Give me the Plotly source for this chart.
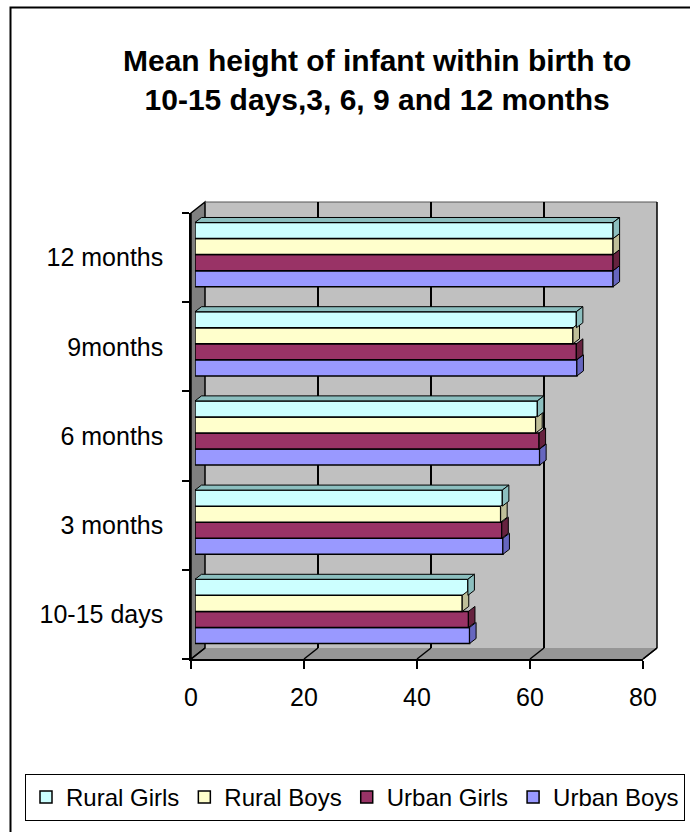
import plotly.graph_objects as go

# ---- data -------------------------------------------------------------
categories = ["10-15 days", "3 months", "6 months", "9months", "12 months"]
rural_girls = [48.3, 54.4, 60.6, 67.5, 74.0]
rural_boys = [47.3, 54.1, 60.3, 66.9, 74.0]
urban_girls = [48.4, 54.3, 60.9, 67.5, 74.0]
urban_boys = [48.6, 54.5, 61.0, 67.6, 74.0]
x_ticks = [0, 20, 40, 60, 80]

# drawn bottom-to-top inside each group
series = [
    ("Urban Boys", urban_boys, "#9999FF", "#6666BF"),
    ("Urban Girls", urban_girls, "#993366", "#66223F"),
    ("Rural Boys", rural_boys, "#FFFFCC", "#BFBF99"),
    ("Rural Girls", rural_girls, "#CCFFFF", "#8CBFBF"),
]

# ---- page geometry (pixels) ------------------------------------------
W, H = 690, 832
FX0, FY0, FW, FH = 191, 213, 452, 446      # front plane of the 3-D box
DX, DY = 14, 11                            # depth of the box (right / up)
BX, BY = 4, 3                              # depth at which the bars sit
X_MAX = 80
BARGAP = 0.28
CAP_DX, CAP_DY = 6.5, 5                    # depth of each bar (px)


def px(x):
    return x / W


def py(y):
    return 1 - y / H


def dom_x(x0):
    return [px(x0), px(x0 + FW)]


def dom_y(y0):
    return [py(y0 + FH), py(y0)]


fig = go.Figure()

# empty traces so the back-wall grid (x/y) and the front axes (x3/y3) exist
for xa, ya in (("x", "y"), ("x3", "y3")):
    fig.add_trace(go.Scatter(x=[], y=[], mode="lines", xaxis=xa, yaxis=ya,
                             showlegend=False, hoverinfo="skip"))

# ---- bars --------------------------------------------------------------
for name, vals, col, _ in series:
    fig.add_trace(go.Bar(
        name=name, x=vals, y=list(range(len(categories))), orientation="h",
        xaxis="x2", yaxis="y2",
        marker=dict(color=col, line=dict(color="black", width=1.5)),
        hoverinfo="x+name",
    ))

# ---- walls of the box ----------------------------------------------------
shapes = []
bx0, by0 = FX0 + DX, FY0 - DY
# back wall
shapes.append(dict(type="rect", xref="paper", yref="paper", layer="below",
                   x0=px(bx0), x1=px(bx0 + FW), y0=py(by0 + FH), y1=py(by0),
                   fillcolor="#C0C0C0", line=dict(width=0)))
# floor
shapes.append(dict(type="path", xref="paper", yref="paper", layer="below",
                   path=(f"M{px(FX0)},{py(FY0 + FH)} L{px(FX0 + FW)},{py(FY0 + FH)} "
                         f"L{px(bx0 + FW)},{py(by0 + FH)} L{px(bx0)},{py(by0 + FH)} Z"),
                   fillcolor="#969696", line=dict(width=0)))
# left wall
shapes.append(dict(type="path", xref="paper", yref="paper", layer="below",
                   path=(f"M{px(FX0)},{py(FY0)} L{px(bx0)},{py(by0)} "
                         f"L{px(bx0)},{py(by0 + FH)} L{px(FX0)},{py(FY0 + FH)} Z"),
                   fillcolor="#808080", line=dict(color="black", width=1.5)))
# top edge and right edge of the back wall, right edge of the floor
edge = dict(xref="paper", yref="paper", layer="below", type="line")
shapes.append(dict(edge, x0=px(bx0), x1=px(bx0 + FW), y0=py(by0), y1=py(by0),
                   line=dict(color="#555555", width=1)))
shapes.append(dict(edge, x0=px(bx0 + FW), x1=px(bx0 + FW), y0=py(by0), y1=py(by0 + FH),
                   line=dict(color="black", width=1.5)))
shapes.append(dict(edge, x0=px(bx0 + FW), x1=px(FX0 + FW), y0=py(by0 + FH), y1=py(FY0 + FH),
                   line=dict(color="black", width=1.5)))
# gridline continuations across the floor
for v in x_ticks:
    xb = bx0 + FW * v / X_MAX
    xf = FX0 + FW * v / X_MAX
    shapes.append(dict(edge, x0=px(xb), x1=px(xf), y0=py(by0 + FH), y1=py(FY0 + FH),
                       line=dict(color="black", width=1.5)))

# ---- 3-D faces of the bars (end caps and top faces) --------------------------
n = len(series)
wbar = (1 - BARGAP) / n
dxu = CAP_DX * X_MAX / FW
dyu = CAP_DY * len(categories) / FH
for k, (name, vals, col, shade) in enumerate(series):
    for i, v in enumerate(vals):
        c = i - (1 - BARGAP) / 2 + (k + 0.5) * wbar
        top, bot = c + wbar / 2, c - wbar / 2
        if k == n - 1:
            shapes.append(dict(type="path", xref="x2", yref="y2", layer="above",
                               path=(f"M0,{top} L{v},{top} L{v + dxu},{top + dyu} "
                                     f"L{dxu},{top + dyu} Z"),
                               fillcolor=shade, line=dict(color="black", width=1)))
        shapes.append(dict(type="path", xref="x2", yref="y2", layer="above",
                           path=(f"M{v},{bot} L{v},{top} L{v + dxu},{top + dyu} "
                                 f"L{v + dxu},{bot + dyu} Z"),
                           fillcolor=shade, line=dict(color="black", width=1)))

# outer frame of the chart
shapes.append(dict(type="rect", xref="paper", yref="paper", layer="below",
                   x0=px(10.5), x1=px(720), y0=py(860), y1=py(7.5),
                   line=dict(color="black", width=2)))

FONT = "Liberation Sans, Arial, sans-serif"

fig.update_layout(
    template="none",
    width=W, height=H,
    margin=dict(l=0, r=0, t=0, b=0),
    paper_bgcolor="white",
    plot_bgcolor="rgba(0,0,0,0)",
    font=dict(family=FONT, size=24, color="black"),
    barmode="group", bargap=BARGAP, bargroupgap=0,
    showlegend=True,
    legend=dict(orientation="h", traceorder="reversed",
                x=px(25), y=py(774), xanchor="left", yanchor="top",
                bgcolor="white", bordercolor="black", borderwidth=1,
                font=dict(size=24), itemwidth=30),
    shapes=shapes,
    # back wall gridlines
    xaxis=dict(domain=dom_x(bx0), range=[0, X_MAX], tickvals=x_ticks,
               showgrid=True, gridcolor="black", gridwidth=1.5,
               showticklabels=False, ticks="", zeroline=False, showline=False,
               anchor="y", fixedrange=True),
    yaxis=dict(domain=dom_y(by0), range=[-0.5, len(categories) - 0.5],
               showgrid=False, showticklabels=False, ticks="", zeroline=False,
               showline=False, anchor="x", fixedrange=True),
    # bars
    xaxis2=dict(domain=dom_x(FX0 + BX), range=[0, X_MAX], visible=False, anchor="y2"),
    yaxis2=dict(domain=dom_y(FY0 - BY), range=[-0.5, len(categories) - 0.5],
                visible=False, anchor="x2"),
    # front axes with ticks and labels
    xaxis3=dict(domain=dom_x(FX0), range=[0, X_MAX], tickvals=x_ticks,
                ticks="outside", ticklen=8, tickwidth=1.5, tickcolor="black",
                showline=True, linecolor="black", linewidth=1.5,
                showgrid=False, zeroline=False, anchor="y3",
                tickfont=dict(size=25), ticklabelstandoff=7),
    yaxis3=dict(domain=dom_y(FY0), range=[-0.5, len(categories) - 0.5],
                tickvals=list(range(len(categories))), ticktext=categories,
                ticks="", showline=True, linecolor="black", linewidth=1.5,
                showgrid=False, zeroline=False, anchor="x3",
                minor=dict(tickvals=[i - 0.5 for i in range(len(categories) + 1)],
                           ticks="outside", ticklen=7, tickwidth=1.5,
                           tickcolor="black"),
                tickfont=dict(size=25), ticklabelstandoff=21),
    annotations=[dict(
        text="Mean height of infant within birth to<br>10-15 days,3, 6, 9 and 12 months",
        xref="paper", yref="paper", x=px(377), y=py(80),
        xanchor="center", yanchor="middle", showarrow=False,
        font=dict(family=FONT, size=30, weight="bold"),
    )],
)

fig.write_html("out.html")
